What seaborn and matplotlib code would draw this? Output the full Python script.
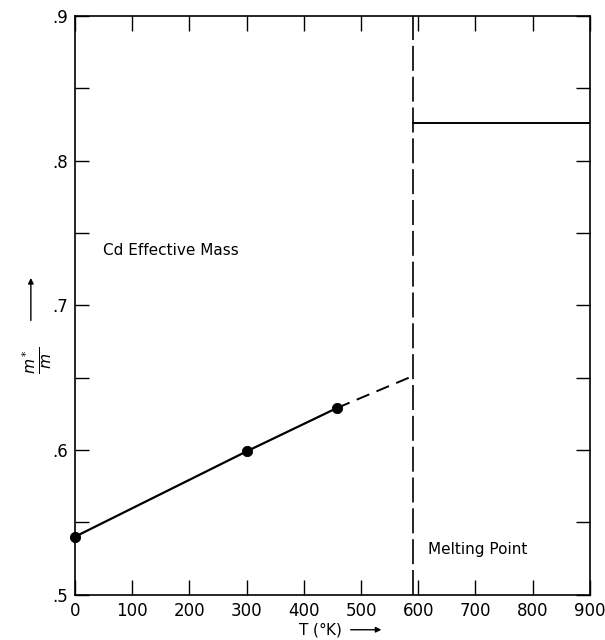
import matplotlib
matplotlib.use("Agg")
import matplotlib.pyplot as plt
import seaborn as sns
import pandas as pd

# measured effective mass of Cd vs temperature
T_meas = [0, 300, 458]
m_meas = [0.540, 0.599, 0.629]

# extrapolation up to the melting point
T_extrap = [458, 590]
m_extrap = [0.629, 0.651]

# melting point and liquid value
T_melt = 590
T_liquid = [590, 900]
m_liquid = [0.826, 0.826]

x_ticks = [0, 100, 200, 300, 400, 500, 600, 700, 800, 900]
y_ticks = [0.5, 0.55, 0.6, 0.65, 0.7, 0.75, 0.8, 0.85, 0.9]
y_ticklabels = [".5", "", ".6", "", ".7", "", ".8", "", ".9"]

sns.set_style("ticks")
plt.rcParams["font.family"] = ["DejaVu Sans"]
plt.rcParams["mathtext.fontset"] = "dejavusans"
plt.rcParams["text.color"] = "black"

fig = plt.figure(figsize=(6.05, 6.4), dpi=100)
ax = fig.add_axes([0.124, 0.071, 0.851, 0.904])

meas = pd.DataFrame({"T": T_meas, "m": m_meas})
sns.lineplot(data=meas, x="T", y="m", color="black", lw=1.6, ax=ax)
sns.scatterplot(data=meas, x="T", y="m", color="black", s=55, edgecolor="black",
                zorder=5, clip_on=False, ax=ax)

extrap = pd.DataFrame({"T": T_extrap, "m": m_extrap})
sns.lineplot(data=extrap, x="T", y="m", color="black", lw=1.4, ax=ax)
ax.lines[-1].set_dashes((7, 4))

liquid = pd.DataFrame({"T": T_liquid, "m": m_liquid})
sns.lineplot(data=liquid, x="T", y="m", color="black", lw=1.4, ax=ax)

ax.axvline(T_melt, color="black", lw=1.2, dashes=(15, 3.5))

ax.set_xlim(0, 900)
ax.set_ylim(0.5, 0.9)
ax.set_xticks(x_ticks)
ax.set_yticks(y_ticks)
ax.set_yticklabels(y_ticklabels)
ax.tick_params(direction="in", length=10, width=1.0, top=True, right=True,
               labelsize=12, colors="black", pad=5)
ax.tick_params(axis="x", length=11)
for s in ax.spines.values():
    s.set_linewidth(1.2)
    s.set_color("black")

ax.set_xlabel("")
ax.set_ylabel("")

ax.text(49, 0.738, "Cd Effective Mass", fontsize=11, va="center", ha="left", color="black")
ax.text(617, 0.531, "Melting Point", fontsize=11, va="center", ha="left", color="black")

# axis titles with arrows, as in the original figure
fig.text(0.565, 0.008, r"T ($\degree$K)", fontsize=11, ha="right", va="baseline")
fig.add_artist(matplotlib.patches.FancyArrowPatch(
    (0.575, 0.016), (0.635, 0.016), transform=fig.transFigure,
    arrowstyle="-|>", mutation_scale=8, color="black", lw=1.0))

fig.text(0.062, 0.437, r"$\frac{m^*}{m}$", fontsize=16, rotation=90,
         ha="center", va="center")
fig.add_artist(matplotlib.patches.FancyArrowPatch(
    (0.051, 0.495), (0.051, 0.57), transform=fig.transFigure,
    arrowstyle="-|>", mutation_scale=8, color="black", lw=1.0))

fig.savefig("out.png", dpi=100)
